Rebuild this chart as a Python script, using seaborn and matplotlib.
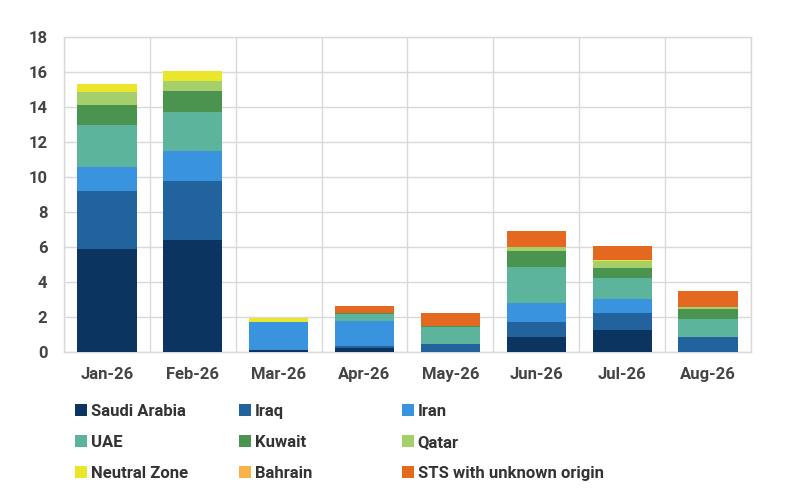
import numpy as np
import matplotlib
matplotlib.use("Agg")
import matplotlib.pyplot as plt
import seaborn as sns

# monthly volumes by origin
months = ["Jan-26", "Feb-26", "Mar-26", "Apr-26", "May-26", "Jun-26", "Jul-26", "Aug-26"]
saudi_arabia = [5.9, 6.4, 0.1, 0.25, 0.0, 0.85, 1.25, 0.0]
iraq = [3.3, 3.35, 0.0, 0.1, 0.45, 0.85, 1.0, 0.85]
iran = [1.35, 1.7, 1.6, 1.4, 0.0, 1.1, 0.8, 0.0]
uae = [2.4, 2.25, 0.0, 0.4, 0.95, 2.05, 1.15, 1.05]
kuwait = [1.15, 1.2, 0.0, 0.05, 0.07, 0.9, 0.6, 0.55]
qatar = [0.75, 0.6, 0.0, 0.0, 0.0, 0.27, 0.4, 0.1]
neutral_zone = [0.45, 0.55, 0.25, 0.0, 0.0, 0.0, 0.08, 0.0]
bahrain = [0.0, 0.0, 0.0, 0.0, 0.0, 0.0, 0.0, 0.0]
sts_unknown = [0.0, 0.0, 0.0, 0.45, 0.75, 0.9, 0.8, 0.95]

series_names = ["Saudi Arabia", "Iraq", "Iran", "UAE", "Kuwait", "Qatar",
                "Neutral Zone", "Bahrain", "STS with unknown origin"]
series_values = [saudi_arabia, iraq, iran, uae, kuwait, qatar,
                 neutral_zone, bahrain, sts_unknown]
colors = ["#0b3461", "#22639d", "#3a93de", "#5bb49b", "#4a9450", "#a4cf6b",
          "#e9e62b", "#f7b348", "#e4681f"]

sns.set_theme(style="white")
plt.rcParams["font.family"] = ["Roboto", "DejaVu Sans"]

fig = plt.figure(figsize=(7.9, 5.04), dpi=100)
ax = fig.add_axes([0.081, 0.3016, 0.8696, 0.6254])

grid_c = "#d9d9d9"
bottom = np.zeros(len(months))
for name, vals, col in zip(series_names, series_values, colors):
    sns.barplot(x=months, y=vals, bottom=bottom, color=col, width=0.69,
                saturation=1, ax=ax, label=name, linewidth=0, zorder=3)
    bottom = bottom + np.array(vals)

ax.set_ylim(0, 18)
ax.set_xlim(-0.5, len(months) - 0.5)
ax.set_yticks(np.arange(0, 19, 2))
ax.set_xticks(np.arange(len(months)))
ax.set_xticks(np.arange(len(months) + 1) - 0.5, minor=True)
ax.grid(axis="y", which="major", color=grid_c, linewidth=1, zorder=0)
ax.grid(axis="x", which="minor", color=grid_c, linewidth=1, zorder=0)
ax.set_axisbelow(True)
for s in ax.spines.values():
    s.set_color(grid_c)
    s.set_linewidth(1)

ax.tick_params(axis="y", which="major", length=4, color=grid_c, pad=8,
               labelsize=12, labelcolor="#444444")
ax.tick_params(axis="x", which="major", length=0, pad=11,
               labelsize=12, labelcolor="#444444")
ax.tick_params(axis="x", which="minor", length=4, color=grid_c)
for lbl in ax.get_xticklabels() + ax.get_yticklabels():
    lbl.set_fontweight("bold")
ax.set_xlabel("")
ax.set_ylabel("")

# legend: three columns placed individually
handles, labels = ax.get_legend_handles_labels()
if ax.legend_:
    ax.legend_.remove()
col_x = [75 / 790, 239 / 790, 402 / 790]
for c in range(3):
    hs = [handles[r * 3 + c] for r in range(3)]
    ls = [labels[r * 3 + c] for r in range(3)]
    leg = fig.legend(hs, ls, loc="upper left", bbox_to_anchor=(col_x[c], 0.199),
                     frameon=False, borderpad=0, borderaxespad=0,
                     handlelength=0.7, handleheight=0.7, handletextpad=0.25,
                     labelspacing=0.96, prop={"size": 12, "weight": "bold"})
    for t in leg.get_texts():
        t.set_color("#333333")

fig.savefig("out.png", dpi=100)
